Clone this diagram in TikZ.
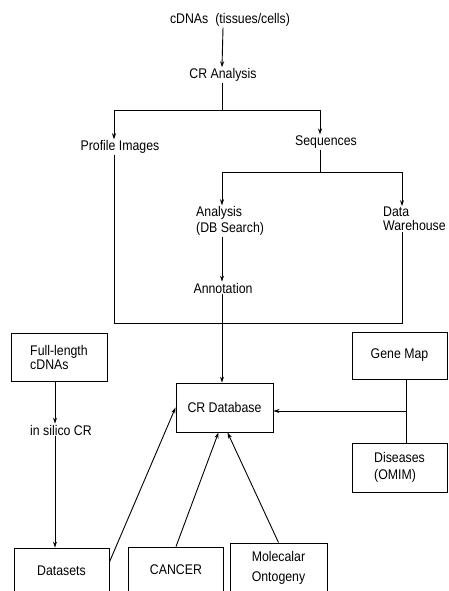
\documentclass[tikz,border=0pt]{standalone}
\usepackage{fontspec}
\setmainfont{Liberation Sans}[FakeStretch=0.88]
\usetikzlibrary{arrows.meta}
\begin{document}
\begin{tikzpicture}[x=1pt,y=-1pt,
    txt/.style={font=\fontsize{14}{15}\selectfont,inner sep=1pt,align=left},
    boxed/.style={txt,draw,line width=0.9pt,minimum width=95pt,minimum height=48pt,align=center},
    arr/.style={line width=0.9pt,-{Stealth[length=6pt,width=4pt]}},
    ln/.style={line width=0.9pt}]
    \clip (0,0) rectangle (448,591);
    % texts
    \node[txt] (cdna) at (230,20) {cDNAs\enspace(tissues/cells)};
    \node[txt] (cran) at (223,75) {CR Analysis};
    \node[txt] (prof) at (120,147) {Profile Images};
    \node[txt] (seq) at (326,142) {Sequences};
    \node[txt,anchor=west,font=\fontsize{14}{16}\selectfont] (anl) at (195,221) {Analysis\\(DB Search)};
    \node[txt,anchor=west,font=\fontsize{14}{13.5}\selectfont] (dwh) at (382,219) {Data\\Warehouse};
    \node[txt] (annot) at (223,288) {Annotation};
    \node[txt] (insil) at (61,430) {in silico CR};
    % boxes
    \node[boxed,minimum width=96pt,font=\fontsize{14}{14}\selectfont,align=left] (flc) at (59,357) {Full-length\\cDNAs};
    \node[boxed,minimum height=47pt] (gmap) at (399.5,355.5) {Gene Map};
    \node[boxed,minimum width=97pt,minimum height=49pt] (crdb) at (224.5,407.5) {CR Database};
    \node[boxed,minimum height=49pt,font=\fontsize{14}{17}\selectfont,align=left] (dis) at (399.5,467.5) {Diseases\\(OMIM)};
    \node[boxed,minimum height=46pt] (dset) at (61.5,571) {Datasets};
    \node[boxed,minimum height=46pt] (cancer) at (176,570) {CANCER};
    \node[boxed,minimum width=97pt,minimum height=50pt,font=\fontsize{14}{20}\selectfont,align=left] (molec) at (278.5,568) {Molecalar\\Ontogeny};
    % junctions
    \coordinate (cSplitAPt) at (222,110);
    \coordinate (cProfPt) at (114,110);
    \coordinate (cSeqPt) at (320,110);
    \coordinate (cSplitBPt) at (320,172);
    \coordinate (cAnlPt) at (222,172);
    \coordinate (cDwhPt) at (402,172);
    \coordinate (cLoopLPt) at (114,323);
    \coordinate (cLoopRPt) at (402,323);
    \coordinate (cGenePt) at (406,411);
    % arrows
    \draw[arr] (cran.north |- cdna.south) -- (cran.north -| cSplitAPt);
    \draw[ln] (cran.south -| cSplitAPt) -- (cSplitAPt);
    \draw[ln] (cProfPt) -- (cSeqPt);
    \draw[arr] (cProfPt) -- (cProfPt |- prof.north);
    \draw[arr] (cSeqPt) -- (cSeqPt |- seq.north);
    \draw[ln] (seq.south -| cSplitBPt) -- (cSplitBPt);
    \draw[ln] (cAnlPt) -- (cDwhPt);
    \draw[arr] (cAnlPt) -- (cAnlPt |- anl.north);
    \draw[arr] (cDwhPt) -- (cDwhPt |- dwh.north);
    \draw[arr] (anl.south -| cAnlPt) -- (annot.north -| cAnlPt);
    \draw[arr] (annot.south -| cAnlPt) -- (crdb.north -| cAnlPt);
    \draw[ln] (prof.south -| cLoopLPt) -- (cLoopLPt) -- (cLoopRPt) -- (dwh.south -| cLoopRPt);
    \draw[arr] (flc.south -| insil.north) ++(-6,0) coordinate (cFlcPt) -- (cFlcPt |- insil.north);
    \draw[arr] (cFlcPt |- insil.south) -- (cFlcPt |- dset.north);
    \draw[ln] (gmap.south -| cGenePt) -- (dis.north -| cGenePt);
    \draw[arr] (cGenePt) -- (crdb.east |- cGenePt);
    \draw[arr] ([yshift=9pt]dset.east) -- (crdb.west);
    \draw[arr] (cancer.north) -- ([xshift=-6pt]crdb.south);
    \draw[arr] (molec.north) -- ([xshift=3pt]crdb.south);
\end{tikzpicture}
\end{document}
